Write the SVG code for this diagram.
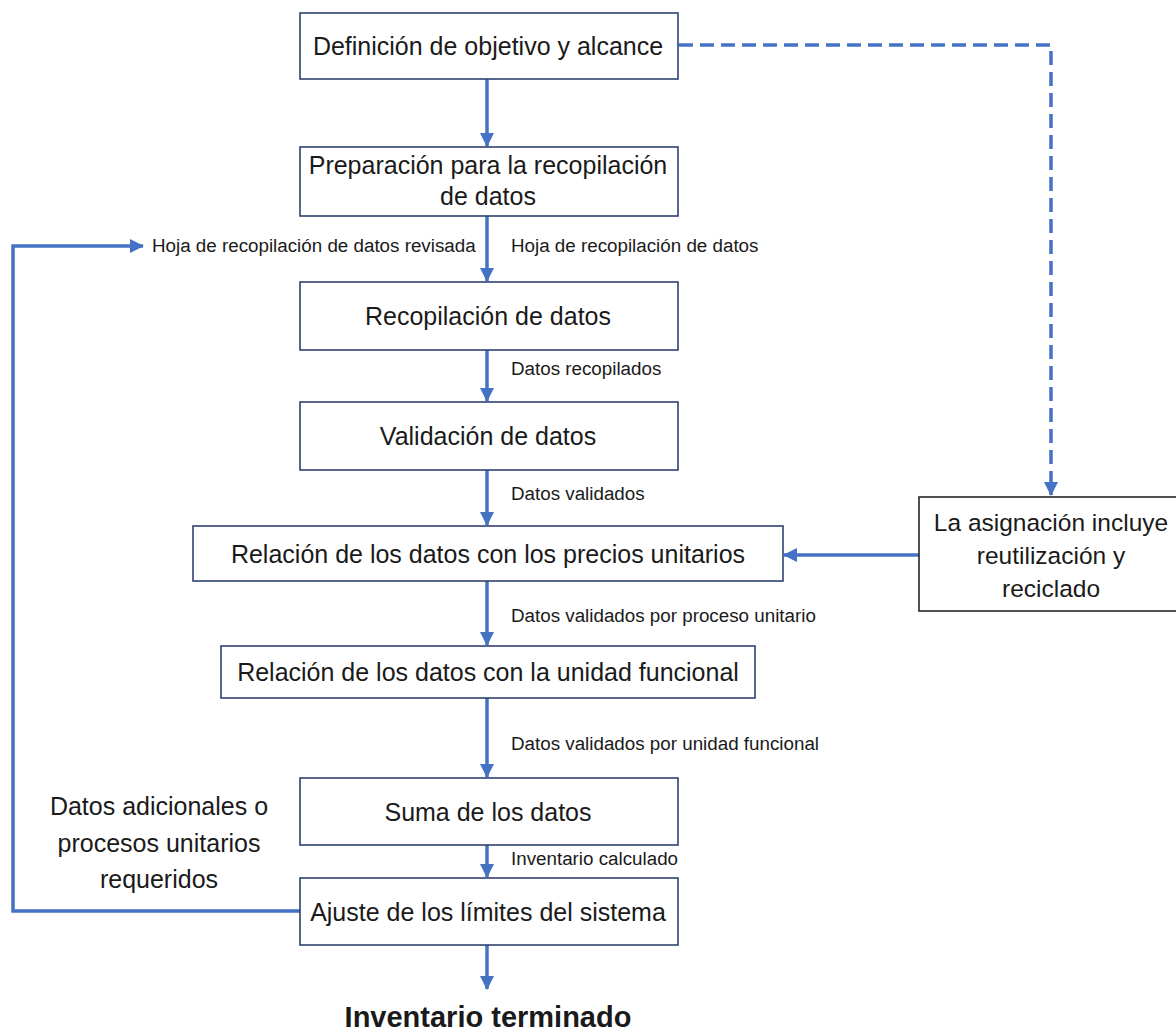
<svg xmlns="http://www.w3.org/2000/svg" width="1176" height="1032" viewBox="0 0 1176 1032">
<style>
.box{fill:#ffffff;stroke:#2f4270;stroke-width:1.6}
.box9{fill:#ffffff;stroke:#262626;stroke-width:1.6}
.t{font-family:"Liberation Sans",Arial,sans-serif;font-size:25px;fill:#1a1a1a;text-anchor:middle}
.t9{font-size:24.5px}
.s{font-family:"Liberation Sans",Arial,sans-serif;font-size:18.8px;fill:#1a1a1a}
.b{font-family:"Liberation Sans",Arial,sans-serif;font-size:29px;font-weight:bold;fill:#1a1a1a;text-anchor:middle}
.c{fill:none;stroke:#4472c4;stroke-width:3.5}
.d{fill:none;stroke:#4472c4;stroke-width:3.5;stroke-dasharray:14 7}
</style>
<defs>
<marker id="ah" markerUnits="userSpaceOnUse" markerWidth="14" markerHeight="14" viewBox="0 0 14 14" refX="13" refY="7" orient="auto">
<path d="M0,0 L14,7 L0,14 Z" fill="#4472c4"/>
</marker>
</defs>
<g id="connectors">
<line class="c" x1="487" y1="79" x2="487" y2="146" marker-end="url(#ah)"/>
<line class="c" x1="487" y1="216" x2="487" y2="281" marker-end="url(#ah)"/>
<line class="c" x1="487" y1="350" x2="487" y2="401" marker-end="url(#ah)"/>
<line class="c" x1="487" y1="470" x2="487" y2="525" marker-end="url(#ah)"/>
<line class="c" x1="487" y1="581" x2="487" y2="645" marker-end="url(#ah)"/>
<line class="c" x1="487" y1="698" x2="487" y2="777" marker-end="url(#ah)"/>
<line class="c" x1="487" y1="845" x2="487" y2="877" marker-end="url(#ah)"/>
<line class="c" x1="487" y1="945" x2="487" y2="989" marker-end="url(#ah)"/>
<line class="c" x1="919" y1="555" x2="784" y2="555" marker-end="url(#ah)"/>
<polyline class="c" points="300,911 13,911 13,246 143,246" marker-end="url(#ah)"/>
<polyline class="d" points="679,45 1051,45 1051,495" marker-end="url(#ah)"/>
</g>
<g id="n1"><rect class="box" x="300" y="13" width="378" height="66"/><text class="t" x="488" y="55">Definición de objetivo y alcance</text></g>
<g id="n2"><rect class="box" x="300" y="147" width="378" height="69"/><text class="t" x="488" y="174">Preparación para la recopilación</text><text class="t" x="488" y="205">de datos</text></g>
<g id="n3"><rect class="box" x="300" y="282" width="378" height="68"/><text class="t" x="488" y="325">Recopilación de datos</text></g>
<g id="n4"><rect class="box" x="300" y="402" width="378" height="68"/><text class="t" x="488" y="445">Validación de datos</text></g>
<g id="n5"><rect class="box" x="193" y="526" width="590" height="55"/><text class="t" x="488" y="563">Relación de los datos con los precios unitarios</text></g>
<g id="n6"><rect class="box" x="221" y="646" width="534" height="52"/><text class="t" x="488" y="681">Relación de los datos con la unidad funcional</text></g>
<g id="n7"><rect class="box" x="300" y="778" width="378" height="67"/><text class="t" x="488" y="821">Suma de los datos</text></g>
<g id="n8"><rect class="box" x="300" y="878" width="378" height="67"/><text class="t" x="488" y="921">Ajuste de los límites del sistema</text></g>
<g id="n9"><rect class="box9" x="919" y="497" width="262" height="114"/><text class="t t9" x="1051" y="531">La asignación incluye</text><text class="t t9" x="1051" y="564">reutilización y</text><text class="t t9" x="1051" y="597">reciclado</text></g>
<g id="labels">
<text class="s" x="152" y="252">Hoja de recopilación de datos revisada</text>
<text class="s" x="511" y="252">Hoja de recopilación de datos</text>
<text class="s" x="511" y="375">Datos recopilados</text>
<text class="s" x="511" y="500">Datos validados</text>
<text class="s" x="511" y="622">Datos validados por proceso unitario</text>
<text class="s" x="511" y="750">Datos validados por unidad funcional</text>
<text class="s" x="511" y="865">Inventario calculado</text>
<text class="t" x="159" y="815">Datos adicionales o</text>
<text class="t" x="159" y="852">procesos unitarios</text>
<text class="t" x="159" y="888">requeridos</text>
<text class="b" x="488" y="1027">Inventario terminado</text>
</g>
</svg>
